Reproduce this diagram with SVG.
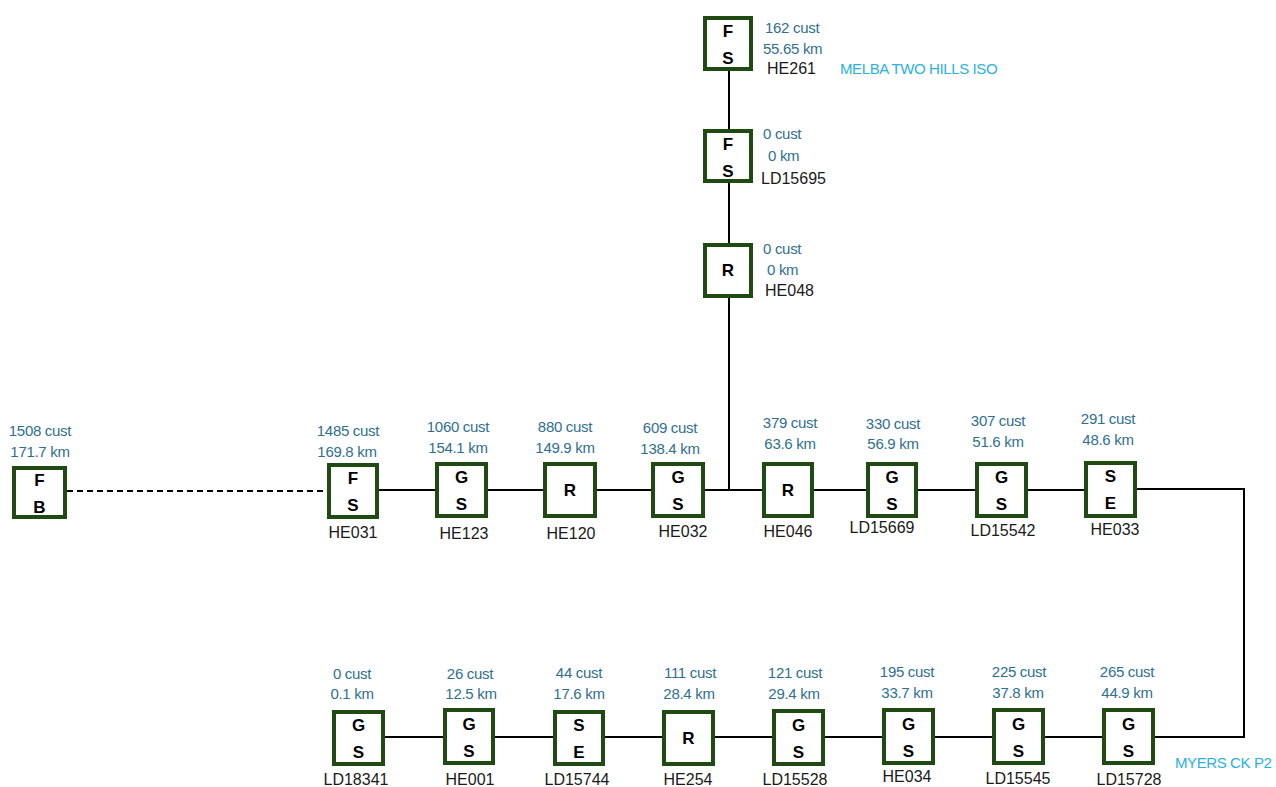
<svg xmlns="http://www.w3.org/2000/svg" width="1276" height="787" viewBox="0 0 1276 787">
<style>
.box{fill:#fff;stroke:#1f4a12;stroke-width:4}
.ln{fill:none;stroke:#000;stroke-width:2}
.dash{stroke-dasharray:6 4}
.lt{font-family:"Liberation Sans",Arial,sans-serif;font-weight:bold;font-size:17px;fill:#000;text-anchor:middle}
.v{font-family:"Liberation Sans",Arial,sans-serif;font-size:15px;fill:#2f6f8f;text-anchor:middle;letter-spacing:-0.3px}
.vl{font-family:"Liberation Sans",Arial,sans-serif;font-size:15px;fill:#2f6f8f;letter-spacing:-0.3px}
.id{font-family:"Liberation Sans",Arial,sans-serif;font-size:16px;fill:#1a1a1a;text-anchor:middle}
.idl{font-family:"Liberation Sans",Arial,sans-serif;font-size:16px;fill:#1a1a1a}
.nm{font-family:"Liberation Sans",Arial,sans-serif;font-size:15px;fill:#2ab0e6;letter-spacing:-0.4px}
</style>
<rect width="1276" height="787" fill="#fff"/>
<g id="connectors">
<line class="ln" x1="729" y1="71" x2="729" y2="490"/>
<line class="ln" x1="379" y1="490" x2="1137" y2="490"/>
<path class="ln" d="M1137,489 L1244,489 L1244,737 L385,737"/>
<line class="ln dash" x1="67" y1="491" x2="327" y2="491"/>
</g>
<g id="HE261"><rect class="box" x="705" y="18" width="46" height="51"/><text class="lt" x="728" y="37">F</text><text class="lt" x="728" y="64">S</text><text class="vl" x="765" y="33">162 cust</text><text class="vl" x="763" y="54">55.65 km</text><text class="idl" x="767" y="74">HE261</text></g>
<text class="nm" x="840" y="74">MELBA TWO HILLS ISO</text>
<g id="LD15695"><rect class="box" x="705" y="131" width="46" height="50"/><text class="lt" x="728" y="150">F</text><text class="lt" x="728" y="177">S</text><text class="vl" x="763" y="139">0 cust</text><text class="vl" x="768" y="161">0 km</text><text class="idl" x="761" y="184">LD15695</text></g>
<g id="HE048"><rect class="box" x="705" y="245" width="46" height="51"/><text class="lt" x="728" y="276">R</text><text class="vl" x="763" y="254">0 cust</text><text class="vl" x="767" y="275">0 km</text><text class="idl" x="765" y="296">HE048</text></g>
<g id="FB"><rect class="box" x="14" y="468" width="51" height="49"/><text class="lt" x="39.5" y="486">F</text><text class="lt" x="39.5" y="513">B</text><text class="v" x="40" y="436">1508 cust</text><text class="v" x="40" y="457">171.7 km</text></g>
<g id="HE031"><rect class="box" x="329" y="465" width="48" height="52"/><text class="lt" x="353" y="484">F</text><text class="lt" x="353" y="511">S</text><text class="v" x="348" y="436">1485 cust</text><text class="v" x="347" y="457">169.8 km</text><text class="id" x="353" y="538">HE031</text></g>
<g id="HE123"><rect class="box" x="437" y="464" width="49" height="52"/><text class="lt" x="461.5" y="483">G</text><text class="lt" x="461.5" y="510">S</text><text class="v" x="458" y="432">1060 cust</text><text class="v" x="458" y="453">154.1 km</text><text class="id" x="464" y="539">HE123</text></g>
<g id="HE120"><rect class="box" x="545" y="464" width="50" height="52"/><text class="lt" x="570" y="496">R</text><text class="v" x="565" y="432">880 cust</text><text class="v" x="565" y="453">149.9 km</text><text class="id" x="571" y="539">HE120</text></g>
<g id="HE032"><rect class="box" x="653" y="464" width="50" height="52"/><text class="lt" x="678" y="483">G</text><text class="lt" x="678" y="510">S</text><text class="v" x="670" y="433">609 cust</text><text class="v" x="670" y="454">138.4 km</text><text class="id" x="683" y="537">HE032</text></g>
<g id="HE046"><rect class="box" x="764" y="464" width="48" height="52"/><text class="lt" x="788" y="496">R</text><text class="v" x="790" y="428">379 cust</text><text class="v" x="790" y="449">63.6 km</text><text class="id" x="788" y="537">HE046</text></g>
<g id="LD15669"><rect class="box" x="868" y="464" width="48" height="52"/><text class="lt" x="892" y="483">G</text><text class="lt" x="892" y="510">S</text><text class="v" x="893" y="429">330 cust</text><text class="v" x="893" y="449">56.9 km</text><text class="id" x="882" y="533">LD15669</text></g>
<g id="LD15542"><rect class="box" x="977" y="464" width="49" height="52"/><text class="lt" x="1001.5" y="483">G</text><text class="lt" x="1001.5" y="510">S</text><text class="v" x="998" y="426">307 cust</text><text class="v" x="998" y="447">51.6 km</text><text class="id" x="1003" y="536">LD15542</text></g>
<g id="HE033"><rect class="box" x="1086" y="463" width="49" height="53"/><text class="lt" x="1110.5" y="482">S</text><text class="lt" x="1110.5" y="509">E</text><text class="v" x="1108" y="424">291 cust</text><text class="v" x="1108" y="445">48.6 km</text><text class="id" x="1115" y="535">HE033</text></g>
<text class="nm" x="1175" y="768">MYERS CK P2</text>
<g id="LD18341"><rect class="box" x="334" y="712" width="49" height="52"/><text class="lt" x="358.5" y="731">G</text><text class="lt" x="358.5" y="758">S</text><text class="v" x="352" y="679">0 cust</text><text class="v" x="352" y="699">0.1 km</text><text class="id" x="356" y="785">LD18341</text></g>
<g id="HE001"><rect class="box" x="445" y="710" width="48" height="53"/><text class="lt" x="469" y="730">G</text><text class="lt" x="469" y="757">S</text><text class="v" x="470" y="679">26 cust</text><text class="v" x="471" y="699">12.5 km</text><text class="id" x="470" y="785">HE001</text></g>
<g id="LD15744"><rect class="box" x="555" y="712" width="48" height="52"/><text class="lt" x="579" y="731">S</text><text class="lt" x="579" y="758">E</text><text class="v" x="579" y="678">44 cust</text><text class="v" x="579" y="699">17.6 km</text><text class="id" x="577" y="785">LD15744</text></g>
<g id="HE254"><rect class="box" x="664" y="712" width="49" height="52"/><text class="lt" x="688.5" y="744">R</text><text class="v" x="690" y="678">111 cust</text><text class="v" x="689" y="699">28.4 km</text><text class="id" x="688" y="785">HE254</text></g>
<g id="LD15528"><rect class="box" x="774" y="711" width="49" height="53"/><text class="lt" x="798.5" y="731">G</text><text class="lt" x="798.5" y="758">S</text><text class="v" x="795" y="678">121 cust</text><text class="v" x="794" y="699">29.4 km</text><text class="id" x="795" y="785">LD15528</text></g>
<g id="HE034"><rect class="box" x="884" y="710" width="49" height="53"/><text class="lt" x="908.5" y="730">G</text><text class="lt" x="908.5" y="757">S</text><text class="v" x="907" y="677">195 cust</text><text class="v" x="907" y="698">33.7 km</text><text class="id" x="907" y="782">HE034</text></g>
<g id="LD15545"><rect class="box" x="994" y="710" width="49" height="53"/><text class="lt" x="1018.5" y="730">G</text><text class="lt" x="1018.5" y="757">S</text><text class="v" x="1019" y="677">225 cust</text><text class="v" x="1018" y="698">37.8 km</text><text class="id" x="1018" y="784">LD15545</text></g>
<g id="LD15728"><rect class="box" x="1104" y="710" width="49" height="53"/><text class="lt" x="1128.5" y="730">G</text><text class="lt" x="1128.5" y="757">S</text><text class="v" x="1127" y="677">265 cust</text><text class="v" x="1127" y="698">44.9 km</text><text class="id" x="1129" y="785">LD15728</text></g>
</svg>
